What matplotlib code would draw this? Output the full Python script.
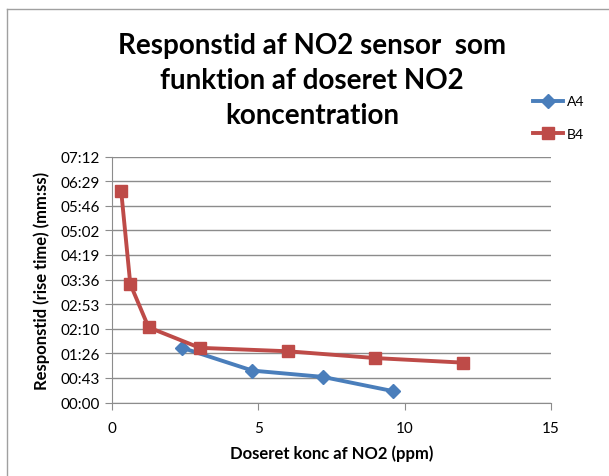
import matplotlib
matplotlib.use("Agg")
import matplotlib.pyplot as plt
from matplotlib.lines import Line2D
from matplotlib.ticker import FixedLocator, FuncFormatter

plt.rcParams['font.family'] = ['Lato', 'DejaVu Sans']

# --- data (x in ppm, y in seconds) ---
a4_x = [2.4, 4.8, 7.2, 9.6]
a4_y = [96, 56, 45, 20]
b4_x = [0.3125, 0.625, 1.25, 3, 6, 9, 12]
b4_y = [372, 208, 132, 96, 90, 78, 70]

y_ticks = [43.2 * i for i in range(11)]
x_ticks = [0, 5, 10, 15]


def mmss(v, pos=None):
    s = int(round(v))
    return f"{s // 60:02d}:{s % 60:02d}"


fig = plt.figure(figsize=(6.09, 4.77), dpi=100)
ax = fig.add_axes([112 / 609, 1 - 403.5 / 477, (551 - 112) / 609, (403.5 - 157.5) / 477])

ax.plot(a4_x, a4_y, color='#4a7ebb', lw=2.8, marker='D', ms=7, label='A4', zorder=3)
ax.plot(b4_x, b4_y, color='#be4b48', lw=2.8, marker='s', ms=9, label='B4', zorder=3)

ax.set_xlim(0, 15)
ax.set_ylim(0, 432)
ax.xaxis.set_major_locator(FixedLocator(x_ticks))
ax.yaxis.set_major_locator(FixedLocator(y_ticks))
ax.yaxis.set_major_formatter(FuncFormatter(mmss))
ax.grid(axis='y', color='#8c8c8c', lw=1)
ax.set_axisbelow(True)
for side in ('top', 'right'):
    ax.spines[side].set_visible(False)
for side in ('left', 'bottom'):
    ax.spines[side].set_color('#8c8c8c')
ax.tick_params(axis='both', direction='out', length=5, color='#8c8c8c', labelsize=11)
ax.tick_params(axis='y', pad=4)
ax.tick_params(axis='x', pad=8)

ax.set_xlabel('Doseret konc af NO2 (ppm)', fontsize=12, fontweight='bold', labelpad=7)
ax.set_ylabel('Responstid (rise time) (mm:ss)', fontsize=12, fontweight='bold', labelpad=7)

fig.text(312 / 609, 1 - 81 / 477,
         'Responstid af NO2 sensor  som\nfunktion af doseret NO2\nkoncentration',
         ha='center', va='center', fontsize=20, fontweight='bold', linespacing=1.45)

fig.legend(loc='upper left', bbox_to_anchor=(520 / 609, 1 - 84 / 477), frameon=False,
           fontsize=10, handlelength=2.2, labelspacing=1.45, handletextpad=0.3)

# chart border (left and top only visible)
fig.add_artist(Line2D([7 / 609, 7 / 609], [0, 1 - 10 / 477], color='#a0a0a0', lw=1))
fig.add_artist(Line2D([7 / 609, 1], [1 - 10 / 477, 1 - 10 / 477], color='#a0a0a0', lw=1))

fig.savefig('out.png', dpi=100)
